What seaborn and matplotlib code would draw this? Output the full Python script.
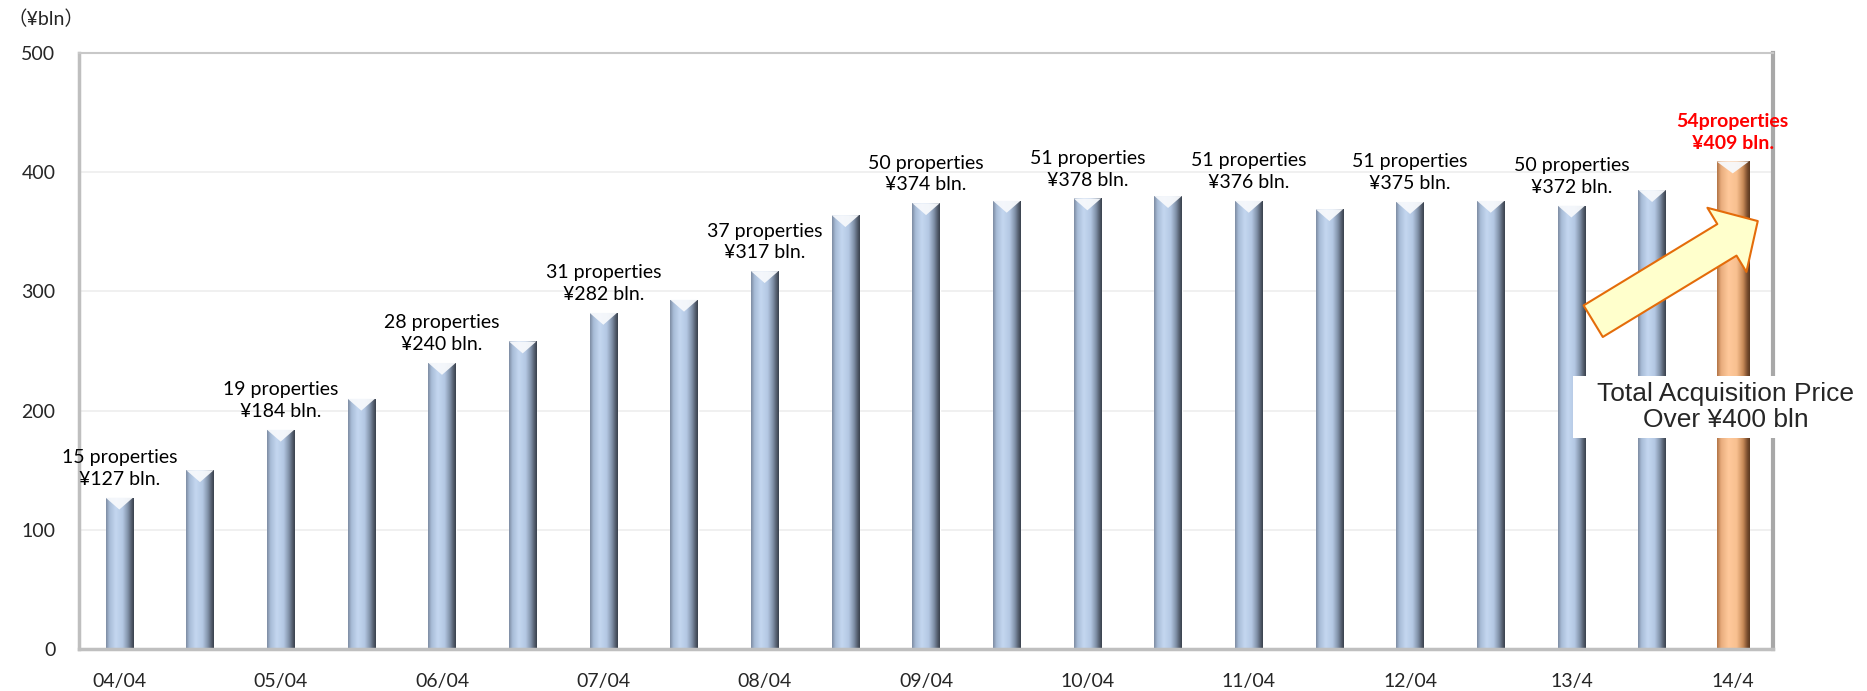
import numpy as np
import pandas as pd
import matplotlib
matplotlib.use("Agg")
import matplotlib.pyplot as plt
import seaborn as sns
from matplotlib.colors import LinearSegmentedColormap
from matplotlib.patches import FancyArrowPatch, Polygon, Rectangle

# data
periods = ['04/04', '04/10', '05/04', '05/10', '06/04', '06/10', '07/04', '07/10',
           '08/04', '08/10', '09/04', '09/10', '10/04', '10/10', '11/04', '11/10',
           '12/04', '12/10', '13/4', '13/10', '14/4']
values = [127, 150, 184, 210, 240, 258, 282, 293, 317, 364, 374, 376,
          378, 380, 376, 369, 375, 376, 372, 385, 409]
label_props = [15, 19, 28, 31, 37, 50, 51, 51, 51, 50, 54]
label_prices = [127, 184, 240, 282, 317, 374, 378, 376, 375, 372, 409]
tick_labels = ['04/04', '05/04', '06/04', '07/04', '08/04', '09/04',
               '10/04', '11/04', '12/04', '13/4', '14/4']
yticks = [0, 100, 200, 300, 400, 500]

df = pd.DataFrame({'period': periods, 'value': values})
colors = ['#B8CCE4'] * (len(periods) - 1) + ['#FAC090']

sns.set_style('white')
plt.rcParams['font.family'] = ['Lato', 'Noto Sans CJK JP', 'DejaVu Sans']

fig = plt.figure(figsize=(18.67, 6.91), dpi=100)
ax = fig.add_axes([0.0423, 0.0608, 0.9074, 0.8625])

sns.barplot(data=df, x='period', y='value', hue='period', palette=colors,
            order=periods, hue_order=periods, legend=False, width=0.34,
            saturation=1, ax=ax, zorder=2)

# widen the last (highlighted) bar a bit
last = ax.patches[-1]
cx = last.get_x() + last.get_width() / 2
last.set_width(0.4)
last.set_x(cx - 0.2)

# cylinder-like shading on each bar
blue_cmap = LinearSegmentedColormap.from_list(
    'blue_bar', [(0, '#7D8CA2'), (0.12, '#A8BCD7'), (0.35, '#C4D7F0'),
                 (0.6, '#B4C8E3'), (0.8, '#7F8FA6'), (0.92, '#535D6D'), (1, '#3A414D')])
orange_cmap = LinearSegmentedColormap.from_list(
    'orange_bar', [(0, '#B27446'), (0.12, '#E9AD7E'), (0.35, '#FFC99B'),
                   (0.6, '#F8C090'), (0.8, '#C88A58'), (0.92, '#7E5030'), (1, '#5A3820')])
grad = np.linspace(0, 1, 64).reshape(1, -1)
for i, patch in enumerate(ax.patches):
    x, w, h = patch.get_x(), patch.get_width(), patch.get_height()
    cmap = orange_cmap if i == len(periods) - 1 else blue_cmap
    im = ax.imshow(grad, cmap=cmap, extent=[x, x + w, 0, h], aspect='auto',
                   interpolation='bicubic', zorder=2.1)
    im.set_clip_path(patch)
    ax.add_patch(Polygon([[x, h], [x + w, h], [x + w / 2, h - 10]], closed=True,
                         facecolor='#F7F9FC', edgecolor='none', alpha=0.95, zorder=2.2))

# value labels over every other bar
for k, (n, p) in enumerate(zip(label_props, label_prices)):
    i = 2 * k
    is_last = i == len(periods) - 1
    txt = f'{n}properties\n¥{p} bln.' if is_last else f'{n} properties\n¥{p} bln.'
    ax.annotate(txt, (i, values[i]), xytext=(0, 7), textcoords='offset points',
                ha='center', va='bottom', fontsize=14, linespacing=1.35,
                color='#FF0000' if is_last else 'black',
                fontweight='bold' if is_last else 'normal', zorder=4)

# arrow + callout box
arrow = FancyArrowPatch((18.27, 275), (20.31, 359),
                        arrowstyle='simple,head_length=26,head_width=54,tail_width=26.6',
                        shrinkA=0, shrinkB=0, facecolor='#FFFFCC', edgecolor='#E46C0A',
                        lw=1.5, zorder=5)
ax.add_patch(arrow)
ax.add_patch(Rectangle((18.02, 177), 2.9, 52, facecolor='white', edgecolor='none',
                       zorder=5, clip_on=False))
ax.text(19.91, 203, 'Total Acquisition Price\nOver ¥400 bln', ha='center', va='center',
        fontsize=19, family=['Liberation Sans', 'DejaVu Sans'], linespacing=1.15,
        zorder=6, clip_on=False)

# axes styling
ax.set_xlim(-0.5, len(periods) - 0.5)
ax.set_ylim(0, 500)
ax.set_yticks(yticks)
ax.set_yticklabels([str(t) for t in yticks])
ax.set_xticks(range(0, len(periods), 2))
ax.set_xticklabels(tick_labels)
ax.set_xticks(np.arange(-0.5, len(periods) - 1, 2), minor=True)
ax.tick_params(axis='x', which='major', length=0, pad=17, labelsize=14)
ax.tick_params(axis='x', which='minor', length=7, width=1, color='#A0A0A0')
ax.tick_params(axis='y', length=0, pad=17, labelsize=14)
ax.set_xlabel('')
ax.set_ylabel('')
ax.yaxis.grid(True, color='#EEEEEE', lw=1.2)
ax.set_axisbelow(True)

ax.spines['left'].set_color('#BFBFBF')
ax.spines['left'].set_linewidth(2.5)
ax.spines['bottom'].set_color('#BFBFBF')
ax.spines['bottom'].set_linewidth(2.5)
ax.spines['top'].set_color('#C8C8C8')
ax.spines['top'].set_linewidth(1.5)
ax.spines['right'].set_color('#A8A8A8')
ax.spines['right'].set_linewidth(3)

fig.text(0.004, 0.972, '（¥bln）', fontsize=14, ha='left', va='center')

fig.savefig('out.png', dpi=100)
